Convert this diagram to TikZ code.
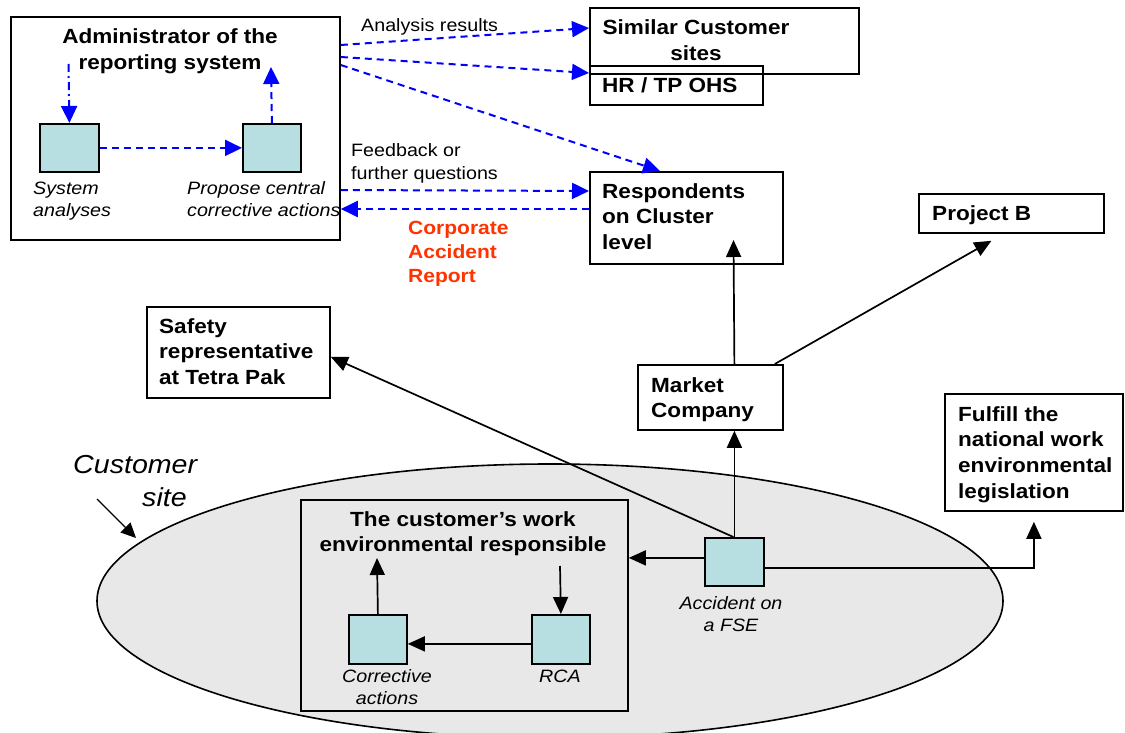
\documentclass[tikz,border=0pt]{standalone}
\usepackage{fontspec}
\setmainfont{Liberation Sans}[FakeStretch=1.1]
\usetikzlibrary{arrows.meta,shapes.geometric,calc}
\definecolor{boxteal}{HTML}{B7DEE0}
\definecolor{sitegrey}{HTML}{E8E8E8}
\definecolor{reportred}{HTML}{FF3300}
% multi-line labels whose baseline is that of the first line
\newcommand\txtl[1]{\begin{tabular}[t]{@{}l@{}}#1\end{tabular}}
\newcommand\txtc[1]{\begin{tabular}[t]{@{}c@{}}#1\end{tabular}}

\begin{document}
\begin{tikzpicture}[x=1pt,y=-1pt,
  box/.style={draw,line width=1.8pt,rectangle,inner sep=0pt,anchor=north west},
  sq/.style={box,fill=boxteal},
  heading/.style={font=\fontsize{20.5}{25.8}\selectfont\bfseries,inner sep=0pt,anchor=base west},
  note/.style={font=\fontsize{17.9}{22.7}\selectfont,inner sep=0pt,anchor=base west},
  caption/.style={font=\fontsize{17.9}{22.7}\selectfont\itshape,inner sep=0pt,anchor=base west},
  flow/.style={draw=blue,line width=2pt,dash pattern=on 7pt off 5pt,-{Triangle[length=17pt,width=16pt]}},
  link/.style={draw,line width=1.7pt,-{Triangle[length=17pt,width=15pt]}},
]
\clip (0,0) rectangle (1125,733);
\fill[white] (0,0) rectangle (1125,733);

% customer site area
\node[ellipse,draw,line width=1.6pt,fill=sitegrey,minimum width=906pt,minimum height=274pt,inner sep=0pt] (site) at (550,601) {};

% boxes
\node[box,minimum width=329pt,minimum height=223pt] (admin) at (10,16) {};
\node[sq,minimum width=59pt,minimum height=48pt] (sysA) at (39,123) {};
\node[sq,minimum width=58pt,minimum height=48pt] (prop) at (242,123) {};
\node[box,minimum width=269pt,minimum height=66pt] (simcust) at (589,7) {};
\node[box,minimum width=173pt,minimum height=39pt] (hr) at (589,65) {};
\node[box,minimum width=193pt,minimum height=92pt] (resp) at (589,171) {};
\node[box,minimum width=185pt,minimum height=39pt] (projb) at (918,193) {};
\node[box,minimum width=183pt,minimum height=91pt] (safety) at (146,306) {};
\node[box,minimum width=145pt,minimum height=65pt] (market) at (637,364) {};
\node[box,minimum width=178pt,minimum height=117pt] (fulfill) at (944,393) {};
\node[box,minimum width=327pt,minimum height=211pt] (inner) at (300,499) {};
\node[sq,minimum width=58pt,minimum height=49pt] (corr) at (348,614) {};
\node[sq,minimum width=58pt,minimum height=49pt] (rca) at (531,614) {};
\node[sq,minimum width=59pt,minimum height=48pt] (acc) at (704,537) {};

% texts
\node[heading,anchor=base] (adminT) at (170,43.5) {\txtc{Administrator of the\\reporting system}};
\node[caption] (sysT) at (33,194) {\txtl{System\\analyses}};
\node[caption] (propT) at (187,194) {\txtl{Propose central\\corrective actions}};
\node[note] (anaT) at (361,32) {Analysis results};
\node[note] (fbT) at (351,157) {\txtl{Feedback or\\further questions}};
\node[heading,font=\fontsize{19.1}{24.4}\selectfont\bfseries,text=reportred] (carT) at (408,234) {\txtl{Corporate\\Accident\\Report}};
\node[heading,anchor=base] (simT) at (696,35) {\txtc{Similar Customer\\sites}};
\node[heading] (hrT) at (602,93) {HR / TP OHS};
\node[heading] (respT) at (602,198) {\txtl{Respondents\\on Cluster\\level}};
\node[heading] (projT) at (932,220) {Project B};
\node[heading] (safT) at (159,333) {\txtl{Safety\\representative\\at Tetra Pak}};
\node[heading] (mktT) at (651,392) {\txtl{Market\\Company}};
\node[heading] (fulT) at (958,421) {\txtl{Fulfill the\\national work\\environmental\\legislation}};
\node[heading,anchor=base] (cwT) at (463,526) {\txtc{The customer’s work\\environmental responsible}};
\node[caption,anchor=base] (corrT) at (387,682) {\txtc{Corrective\\actions}};
\node[caption,anchor=base] (rcaT) at (560,682) {RCA};
\node[caption,anchor=base] (accT) at (731,609) {\txtc{Accident on\\a FSE}};
\node[caption,font=\fontsize{26}{33}\selectfont\itshape] (siteT) at (73,473) {\txtl{Customer\\\hspace*{69pt}site}};

% free ends
\coordinate (adminOut) at (68.5,64);
\coordinate (adminIn) at (271,67);
\coordinate (respIn) at (733.5,240);
\coordinate (corrUp) at (377,558);
\coordinate (rcaIn) at (560,566);
\coordinate (siteFrom) at (97,499);
\coordinate (siteTo) at (136,538);

% reporting flows
\draw[flow] ($(admin.north east)+(0,29)$) -- ($(simcust.north west)+(0,21)$);
\draw[flow] ($(admin.north east)+(0,41)$) -- ($(hr.north west)+(0,8)$);
\draw[flow] ($(admin.north east)+(0,49)$) -- ($(resp.north west)+(71,0)$);
\draw[flow] ($(admin.north east)+(0,174)$) -- ($(resp.north west)+(0,20)$);
\draw[flow] ($(resp.north west)+(0,38)$) -- ($(admin.north east)+(0,193)$);
\draw[flow] (sysA.east) -- (prop.west);
\draw[flow,dash pattern=on 8pt off 4pt on 2pt off 4pt] (adminOut) -- (sysA.north);
\draw[flow] (prop.north) -- (adminIn);

% accident flows
\draw[link] (acc.north) -- (acc.north |- market.south);
\draw[link] (acc.north |- market.north) -- (respIn);
\draw[link] ($(market.north east)+(-9,0)$) -- ($(projb.south)+(-20,7)$);
\draw[link] ($(acc.north)+(-1,0)$) -- ([yshift=-4.5pt]safety.east);
\draw[link] ([yshift=4pt]acc.west) -- ([yshift=4pt]acc.west -| inner.east);
\draw[link] ([yshift=-6pt]acc.east) -| ([yshift=-10pt]fulfill.south);
\draw[link] (corr.north) -- (corrUp);
\draw[link] (rcaIn) -- (rca.north);
\draw[link] ([yshift=-4.5pt]rca.west) -- ([yshift=-4.5pt]corr.east);
\draw[link,line width=1.2pt,-{Triangle[length=15pt,width=14pt]}] (siteFrom) -- (siteTo);
\end{tikzpicture}
\end{document}
